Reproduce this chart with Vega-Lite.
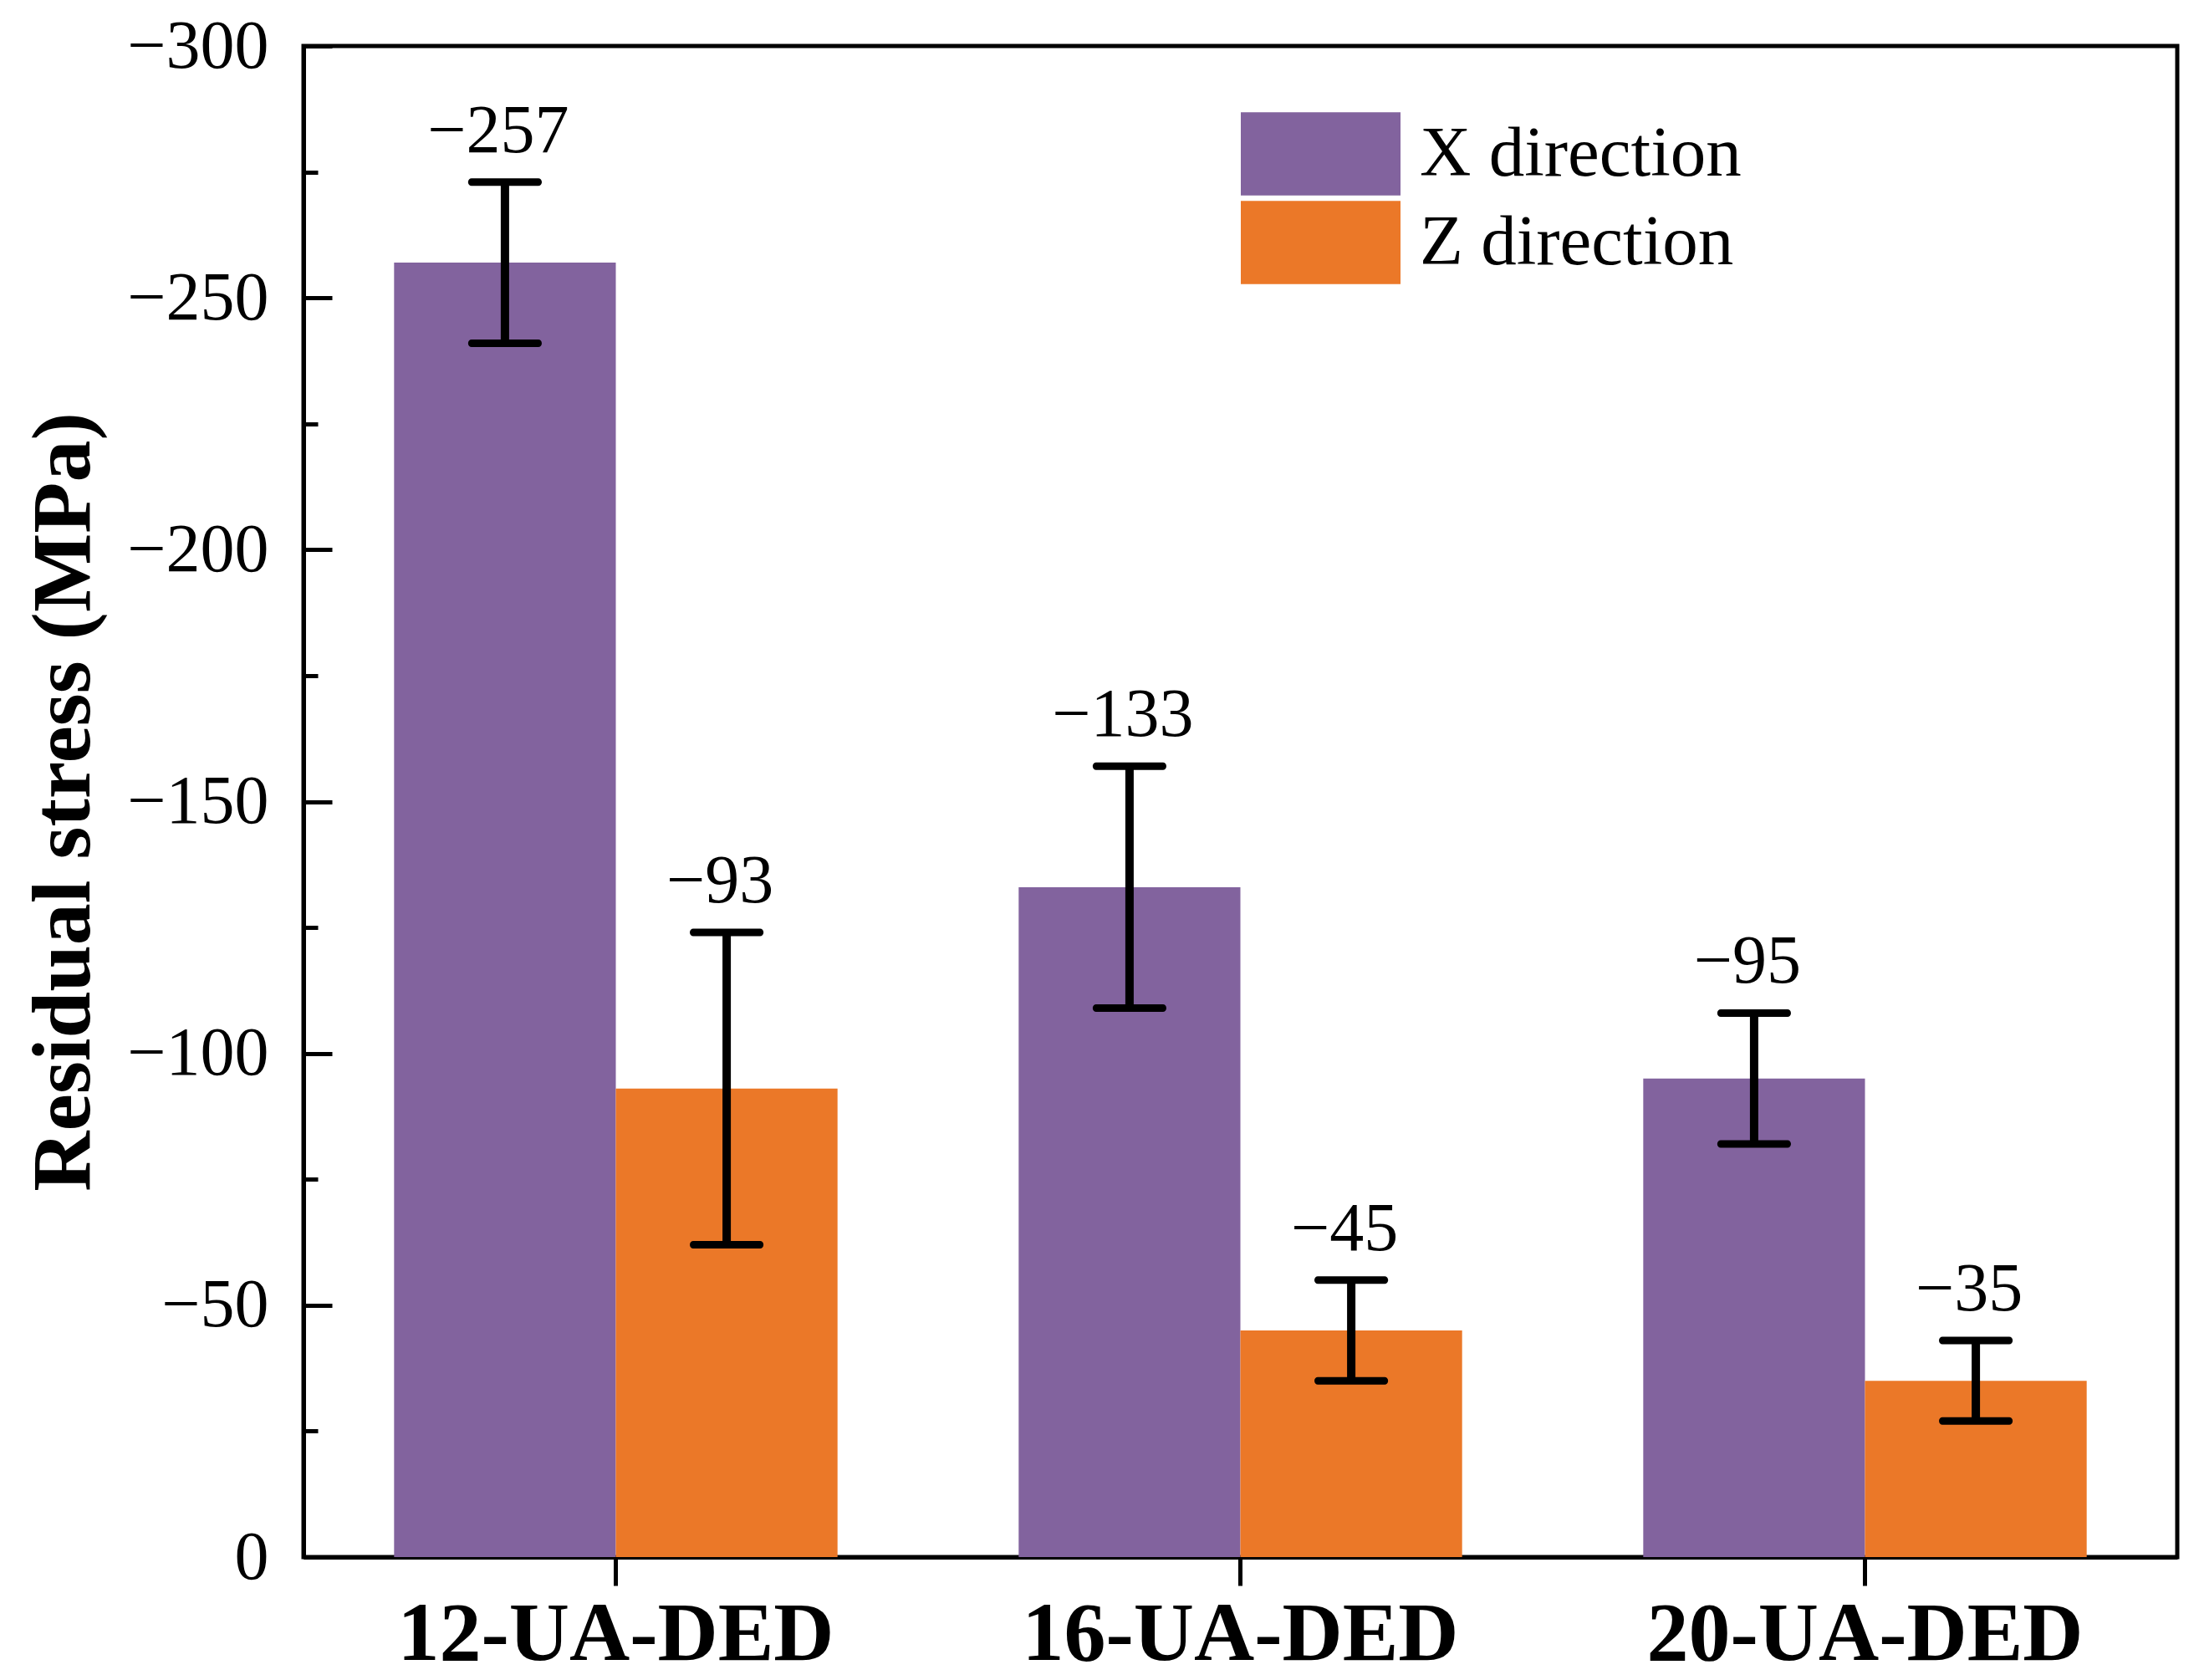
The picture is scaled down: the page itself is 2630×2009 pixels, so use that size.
{
  "$schema": "https://vega.github.io/schema/vega-lite/v6.json",
  "width": 2241,
  "height": 1807,
  "autosize": {"type": "none"},
  "padding": {"left": 363, "top": 55, "right": 26, "bottom": 147},
  "background": "white",
  "config": {
    "font": "Liberation Serif",
    "view": {"stroke": "black", "strokeWidth": 5}
  },
  "data": {
    "values": [
      {"group": "12-UA-DED", "dir": "X direction", "value": -257, "top": -273, "bottom": -241},
      {"group": "12-UA-DED", "dir": "Z direction", "value": -93, "top": -124, "bottom": -62},
      {"group": "16-UA-DED", "dir": "X direction", "value": -133, "top": -157, "bottom": -109},
      {"group": "16-UA-DED", "dir": "Z direction", "value": -45, "top": -55, "bottom": -35},
      {"group": "20-UA-DED", "dir": "X direction", "value": -95, "top": -108, "bottom": -82},
      {"group": "20-UA-DED", "dir": "Z direction", "value": -35, "top": -43, "bottom": -27}
    ]
  },
  "encoding": {
    "x": {
      "field": "group",
      "type": "nominal",
      "sort": ["12-UA-DED", "16-UA-DED", "20-UA-DED"],
      "scale": {"paddingInner": 0.29, "paddingOuter": 0.145},
      "axis": {
        "title": null,
        "labelAngle": 0,
        "labelLimit": 0,
        "labelFontSize": 100,
        "labelFontWeight": "bold",
        "labelColor": "black",
        "labelBaseline": "alphabetic",
        "labelPadding": 88,
        "tickSize": 34,
        "tickWidth": 5,
        "tickColor": "black",
        "domainWidth": 5,
        "domainColor": "black",
        "grid": false
      }
    },
    "xOffset": {
      "field": "dir",
      "type": "nominal",
      "sort": ["X direction", "Z direction"],
      "scale": {"paddingInner": 0, "paddingOuter": 0}
    }
  },
  "layer": [
    {
      "mark": {"type": "bar"},
      "encoding": {
        "y": {
          "field": "value",
          "type": "quantitative",
          "title": "Residual stress (MPa)",
          "scale": {"domain": [-300, 0], "reverse": true, "nice": false},
          "axis": {
            "values": [-300, -275, -250, -225, -200, -175, -150, -125, -100, -75, -50, -25, 0],
            "labelExpr": "datum.value % 50 === 0 ? datum.label : ''",
            "labelOverlap": false,
            "labelFontSize": 82,
            "labelColor": "black",
            "labelPadding": 76,
            "tickSize": {"condition": {"test": "datum.value % 50 === 0", "value": -34}, "value": -17},
            "tickWidth": 5,
            "tickColor": "black",
            "domainWidth": 5,
            "domainColor": "black",
            "grid": false,
            "titleFontSize": 100,
            "titleFontWeight": "bold",
            "titleColor": "black",
            "titlePadding": 36
          }
        },
        "color": {
          "field": "dir",
          "type": "nominal",
          "scale": {"domain": ["X direction", "Z direction"], "range": ["#82639E", "#EB7828"]},
          "legend": {
            "title": null,
            "orient": "none",
            "legendX": 1121,
            "legendY": 79,
            "symbolType": "M-1,-0.52H1V0.52H-1Z",
            "symbolSize": 36481,
            "symbolStrokeWidth": 0,
            "symbolOpacity": 1,
            "clipHeight": 100,
            "labelFontSize": 85,
            "labelLimit": 0,
            "labelColor": "black",
            "labelOffset": 23,
            "rowPadding": 6
          }
        }
      }
    },
    {
      "mark": {"type": "rule", "strokeWidth": 10, "color": "black"},
      "encoding": {
        "y": {"field": "top", "type": "quantitative"},
        "y2": {"field": "bottom"}
      }
    },
    {
      "mark": {"type": "tick", "thickness": 9, "size": 88, "color": "black", "opacity": 1, "cornerRadius": 4},
      "encoding": {"y": {"field": "top", "type": "quantitative"}}
    },
    {
      "mark": {"type": "tick", "thickness": 9, "size": 88, "color": "black", "opacity": 1, "cornerRadius": 4},
      "encoding": {"y": {"field": "bottom", "type": "quantitative"}}
    },
    {
      "mark": {"type": "text", "dy": -36, "dx": -8, "baseline": "alphabetic", "fontSize": 82, "color": "black"},
      "encoding": {
        "y": {"field": "top", "type": "quantitative"},
        "text": {"field": "value", "type": "quantitative", "format": "d"}
      }
    }
  ]
}
